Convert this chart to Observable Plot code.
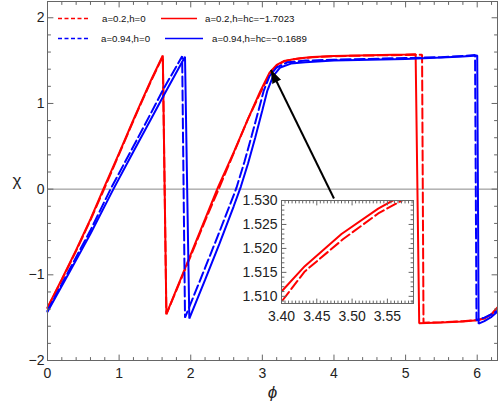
<!DOCTYPE html>
<html><head><meta charset="utf-8">
<script src="https://cdn.jsdelivr.net/npm/d3@7"></script>
<script src="https://cdn.jsdelivr.net/npm/@observablehq/plot@0.6"></script>
<style>
html,body{margin:0;padding:0;background:#fff;}
#chart{position:relative;width:498px;height:407px;font-family:"Liberation Sans",Arial,sans-serif;}
#chart svg{position:absolute;}
</style></head><body><div id="chart"></div>
<script>
// ---- data ----
const redDashPhi = [0, 0.2, 0.4, 0.6, 0.79, 1.0, 1.2, 1.3, 1.45, 1.61, 1.66, 1.8, 2.0, 2.2, 2.39, 2.6, 2.8, 2.97, 3.1, 3.2, 3.3, 3.397, 3.433, 3.487, 3.537, 3.573, 3.7, 4.0, 4.5, 5.0, 5.23, 5.25, 5.5, 5.8, 6.0, 6.1, 6.2, 6.283];
const redDashChi = [-1.39, -1.06, -0.72, -0.36, 0, 0.41, 0.80, 0.99, 1.27, 1.55, -1.46, -1.18, -0.78, -0.37, 0, 0.42, 0.82, 1.12, 1.34, 1.44, 1.49, 1.5083, 1.5152, 1.5219, 1.5273, 1.5302, 1.539, 1.552, 1.560, 1.566, 1.568, -1.56, -1.553, -1.542, -1.527, -1.507, -1.462, -1.385];

const redSolidPhi = [0, 0.2, 0.4, 0.6, 0.78, 1.0, 1.2, 1.3, 1.45, 1.61, 1.66, 1.8, 2.0, 2.2, 2.38, 2.6, 2.8, 2.97, 3.1, 3.2, 3.3, 3.4, 3.433, 3.485, 3.537, 3.56, 3.7, 4.0, 4.5, 5.0, 5.14, 5.19, 5.5, 5.8, 6.0, 6.1, 6.2, 6.283];
const redSolidChi = [-1.38, -1.05, -0.71, -0.35, 0, 0.42, 0.81, 1.0, 1.28, 1.56, -1.46, -1.17, -0.76, -0.35, 0.02, 0.43, 0.82, 1.14, 1.36, 1.45, 1.495, 1.511, 1.5163, 1.523, 1.5283, 1.5302, 1.542, 1.555, 1.563, 1.570, 1.575, -1.565, -1.556, -1.545, -1.53, -1.51, -1.46, -1.38];

const blueDashPhi = [0, 0.3, 0.6, 0.88, 1.2, 1.44, 1.62, 1.88, 1.92, 2.2, 2.4, 2.6, 2.64, 2.75, 2.85, 2.95, 3.02, 3.1, 3.2, 3.35, 3.6, 4.0, 4.5, 5.0, 5.5, 5.8, 5.97, 5.99, 6.1, 6.2, 6.283];
const blueDashChi = [-1.42, -0.95, -0.48, 0, 0.50, 0.88, 1.17, 1.55, -1.50, -0.92, -0.50, -0.07, 0.02, 0.32, 0.62, 0.93, 1.15, 1.32, 1.42, 1.48, 1.50, 1.51, 1.52, 1.53, 1.54, 1.553, 1.565, -1.53, -1.50, -1.46, -1.42];

const blueSolidPhi = [0, 0.3, 0.6, 0.92, 1.2, 1.44, 1.62, 1.92, 1.98, 2.2, 2.4, 2.6, 2.7, 2.8, 2.9, 3.0, 3.07, 3.15, 3.25, 3.4, 3.6, 4.0, 4.5, 5.0, 5.5, 5.8, 6.0, 6.02, 6.1, 6.2, 6.283];
const blueSolidChi = [-1.43, -0.98, -0.52, 0, 0.44, 0.81, 1.09, 1.545, -1.51, -1.06, -0.64, -0.20, 0.03, 0.30, 0.60, 0.92, 1.15, 1.32, 1.42, 1.465, 1.48, 1.50, 1.51, 1.52, 1.535, 1.548, 1.56, -1.57, -1.54, -1.49, -1.43];

const legendLabels = ["a=0.2,h=0", "a=0.2,h=hc=\u22121.7023", "a=0.94,h=0", "a=0.94,h=hc=\u22120.1689"];

const xMajorTicks = [0, 1, 2, 3, 4, 5, 6];
const yMajorTicks = [-2, -1, 0, 1, 2];
const insetXTicks = [3.40, 3.45, 3.50, 3.55];
const insetYTicks = [1.510, 1.515, 1.520, 1.525, 1.530];

const arrowFrom = [4.0, -0.11];
const arrowTo = [3.12, 1.39];

// ---- helpers ----
const rows = (phi, chi) => phi.map((p, i) => ({phi: p, chi: chi[i]}));
const series = [
  {rows: rows(redDashPhi, redDashChi), color: "#ff0000", dash: "10,4"},
  {rows: rows(redSolidPhi, redSolidChi), color: "#ff0000", dash: null},
  {rows: rows(blueDashPhi, blueDashChi), color: "#0000ff", dash: "10,4"},
  {rows: rows(blueSolidPhi, blueSolidChi), color: "#0000ff", dash: null}
];
const TWO_PI = 2 * Math.PI;
const xDom = [0, TWO_PI], yDom = [-2, 2.19];
const xMinor = d3.range(0, 6.3, 0.2).map(v => +v.toFixed(1)).filter(v => !Number.isInteger(v));
const yMinor = d3.range(-2, 2.2, 0.2).map(v => +v.toFixed(1)).filter(v => !Number.isInteger(v));
const tickShape = {draw(ctx, l) { ctx.moveTo(0, 0); ctx.lineTo(0, -l); }};
const frameColor = "#666";
function frameTicks(xs, ys, xd, yd, len) {
  const o = {shape: tickShape, anchor: "start", stroke: frameColor, strokeWidth: 1, length: len};
  return [
    Plot.vector(xs, {...o, x: d => d, y: yd[0], rotate: 0}),
    Plot.vector(xs, {...o, x: d => d, y: yd[1], rotate: 180}),
    Plot.vector(ys, {...o, y: d => d, x: xd[0], rotate: 90}),
    Plot.vector(ys, {...o, y: d => d, x: xd[1], rotate: -90})
  ];
}

const chart = document.getElementById("chart");
const arrowRows = [{x1: arrowFrom[0], y1: arrowFrom[1], x2: arrowTo[0], y2: arrowTo[1]}];

function buildMain(headRotate) {
  const marks = [
    Plot.ruleY([0], {stroke: "#888", strokeWidth: 1}),
    ...series.map(s => Plot.line(s.rows, {x: "phi", y: "chi", stroke: s.color, strokeWidth: 2, strokeDasharray: s.dash, strokeLinejoin: "miter"})),
    Plot.link(arrowRows, {x1: "x1", y1: "y1", x2: "x2", y2: "y2", stroke: "black", strokeWidth: 2}),
    Plot.frame({stroke: frameColor}),
    ...frameTicks(xMajorTicks, yMajorTicks, xDom, yDom, 5.5),
    ...frameTicks(xMinor, yMinor, xDom, yDom, 3),
    Plot.axisX(xMajorTicks, {anchor: "bottom", tickSize: 0, tickPadding: 8, fontSize: 14, color: "#222", label: null, tickFormat: d3.format("d")}),
    Plot.axisY(yMajorTicks, {anchor: "left", tickSize: 0, tickPadding: 3, fontSize: 14, color: "#222", label: null, tickFormat: d3.format("d")}),
    Plot.text(["\u03c7"], {frameAnchor: "left", dx: -35, fontSize: 17, fill: "#222"}),
    Plot.text(["\u03d5"], {frameAnchor: "bottom", dy: 37, fontSize: 17, fontStyle: "italic", fill: "#222"})
  ];
  if (headRotate != null) {
    marks.push(Plot.vector(arrowRows, {x: "x2", y: "y2", anchor: "end", shape: "spike", length: 13, r: 4.5, rotate: headRotate, fill: "black", stroke: "black", strokeWidth: 0.5}));
  }
  return Plot.plot({
    width: 498, height: 407,
    marginLeft: 47, marginRight: 1, marginTop: 1, marginBottom: 47,
    x: {domain: xDom, axis: null},
    y: {domain: yDom, axis: null},
    style: {fontFamily: "Liberation Sans, Arial, sans-serif", background: "white"},
    marks
  });
}
// first pass for the scales, then compute the on-screen arrow direction
const probe = buildMain(null);
const sx = probe.scale("x"), sy = probe.scale("y");
const dxp = sx.apply(arrowTo[0]) - sx.apply(arrowFrom[0]);
const dyp = sy.apply(arrowTo[1]) - sy.apply(arrowFrom[1]);
const headRot = Math.atan2(dxp, -dyp) * 180 / Math.PI;
const main = buildMain(headRot);
main.style.left = "0px"; main.style.top = "0px";
chart.appendChild(main);

// ---- inset ----
const iXDom = [3.4, 3.587], iYDom = [1.5085, 1.530];
const iXMinor = d3.range(3.4, 3.588, 0.005).map(v => +v.toFixed(3)).filter(v => !insetXTicks.some(t => Math.abs(t - v) < 1e-6));
const iYMinor = d3.range(1.509, 1.5301, 0.001).map(v => +v.toFixed(3)).filter(v => !insetYTicks.some(t => Math.abs(t - v) < 1e-6));
const inset = Plot.plot({
  width: 181, height: 131,
  marginLeft: 48, marginRight: 1, marginTop: 8, marginBottom: 20,
  x: {domain: iXDom, axis: null},
  y: {domain: iYDom, axis: null},
  style: {fontFamily: "Liberation Sans, Arial, sans-serif", background: "transparent"},
  marks: [
    Plot.frame({fill: "white", stroke: null}),
    ...series.slice(0, 2).map(s => Plot.line(s.rows, {x: "phi", y: "chi", stroke: s.color, strokeWidth: 2, strokeDasharray: s.dash, clip: true})),
    Plot.frame({stroke: frameColor}),
    ...frameTicks(insetXTicks, insetYTicks, iXDom, iYDom, 4.5),
    ...frameTicks(iXMinor, iYMinor, iXDom, iYDom, 2.5),
    Plot.axisX(insetXTicks, {anchor: "bottom", tickSize: 0, tickPadding: 8, fontSize: 14, color: "#222", label: null, tickFormat: d3.format(".2f")}),
    Plot.axisY(insetYTicks, {anchor: "left", tickSize: 0, tickPadding: 4, fontSize: 14, color: "#222", label: null, tickFormat: d3.format(".3f")})
  ]
});
inset.style.left = "233px"; inset.style.top = "192px";
chart.appendChild(inset);

// ---- legend overlay ----
const legendItems = [
  {x1: 58, x2: 90, tx: 102, y: 18.5, s: series[0]},
  {x1: 161, x2: 197, tx: 205, y: 18.5, s: series[1]},
  {x1: 58, x2: 90, tx: 101, y: 38.5, s: series[2]},
  {x1: 165, x2: 203, tx: 212, y: 38.5, s: series[3]}
];
const leg = d3.create("svg").attr("width", 498).attr("height", 60)
  .style("left", "0px").style("top", "0px").style("pointer-events", "none");
legendItems.forEach((it, i) => {
  leg.append("line").attr("x1", it.x1).attr("x2", it.x2).attr("y1", it.y).attr("y2", it.y)
    .attr("stroke", it.s.color).attr("stroke-width", 1.4)
    .attr("stroke-dasharray", it.s.dash ? "4,2.5" : null);
  leg.append("text").attr("x", it.tx).attr("y", it.y).attr("dy", "0.35em")
    .attr("font-size", 9.7).attr("fill", "#111")
    .attr("font-family", "Liberation Sans, Arial, sans-serif")
    .text(legendLabels[i]);
});
chart.appendChild(leg.node());
</script></body></html>
